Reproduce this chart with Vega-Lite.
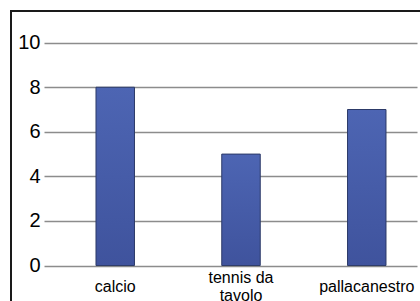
{
  "$schema": "https://vega.github.io/schema/vega-lite/v6.json",
  "width": 420,
  "height": 300,
  "autosize": {"type": "none"},
  "padding": {"left": 11, "top": 11, "right": 0, "bottom": 0},
  "background": "white",
  "config": {
    "view": {"stroke": "#1a1a1a", "strokeWidth": 2},
    "font": "Liberation Sans"
  },
  "data": {
    "values": [
      {"sport": "calcio", "valore": 8},
      {"sport": "tennis da tavolo", "valore": 5},
      {"sport": "pallacanestro", "valore": 7}
    ]
  },
  "mark": {
    "type": "bar",
    "fill": {
      "gradient": "linear",
      "x1": 0, "y1": 0, "x2": 0, "y2": 1,
      "stops": [
        {"offset": 0, "color": "#4d65b3"},
        {"offset": 1, "color": "#3f539d"}
      ]
    },
    "stroke": "#2c3a68",
    "strokeWidth": 1
  },
  "encoding": {
    "x": {
      "field": "sport",
      "type": "nominal",
      "sort": null,
      "scale": {"range": [33, 406], "paddingInner": 0.694, "paddingOuter": 0.33, "align": 0.6265},
      "axis": {
        "title": null,
        "orient": "bottom",
        "offset": -45.5,
        "domain": false,
        "ticks": false,
        "grid": false,
        "labelAngle": 0,
        "labelFontSize": 16,
        "labelColor": "#000000",
        "labelPadding": {"condition": {"test": "datum.label == 'tennis da tavolo'", "value": 12}, "value": 21},
        "labelBaseline": "middle",
        "labelLineHeight": 18,
        "labelOverlap": false,
        "labelLimit": 0,
        "labelExpr": "datum.label == 'tennis da tavolo' ? ['tennis da', 'tavolo'] : datum.label"
      }
    },
    "y": {
      "field": "valore",
      "type": "quantitative",
      "scale": {"domain": [-2.04, 11.42], "nice": false, "zero": false},
      "axis": {
        "title": null,
        "offset": -33,
        "values": [0, 2, 4, 6, 8, 10],
        "domain": false,
        "ticks": false,
        "grid": true,
        "gridColor": "#8c8c8c",
        "gridWidth": 1.5,
        "labelFontSize": 20,
        "labelColor": "#000000",
        "labelPadding": 4
      }
    }
  }
}
